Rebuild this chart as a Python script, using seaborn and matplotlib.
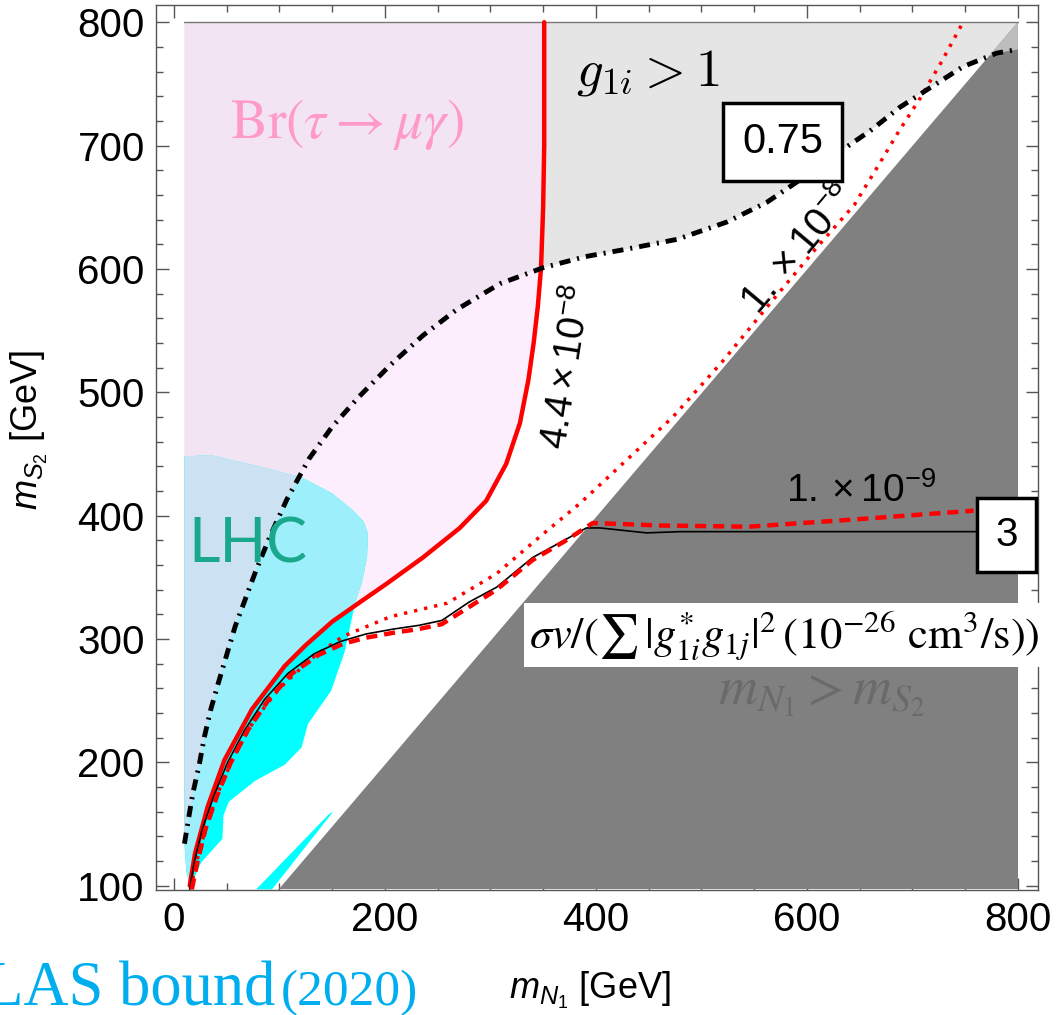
import matplotlib
matplotlib.use("Agg")
import matplotlib.pyplot as plt
import seaborn as sns
from matplotlib.ticker import MultipleLocator

# contours, (m_N1, m_S2) in GeV
# g_1i = 0.75 (black dash-dot)
g075_x = [10, 14, 18, 24, 29, 35, 42, 50, 58, 68, 78, 92, 107, 128, 150, 175, 205, 236,
          268, 309, 350, 390, 429, 477, 524, 562, 600, 631, 660, 688, 717, 748, 780, 800]
g075_y = [134, 155, 175, 198, 221, 243, 264, 287, 310, 333, 356, 385, 413, 446, 472, 496, 522, 546,
          567, 588, 601, 610, 616, 624, 638, 654, 676, 695, 712, 731, 747, 764, 775, 778]

# Br(tau -> mu gamma) = 4.4e-8 (red solid)
br44_x = [15, 20, 32, 48, 74, 105, 125, 150, 175, 202, 236, 271, 296, 315, 328, 336, 341,
          345, 348, 350, 351, 351]
br44_y = [100, 126, 164, 202, 243, 278, 295, 314, 329, 345, 366, 390, 412, 442, 475, 510, 540,
          570, 601, 650, 700, 800]

# Br = 1e-8 (red dotted)
br1e8_x = [16, 21, 30, 42, 57, 76, 100, 130, 160, 205, 259, 306, 347, 385, 429, 473,
           520, 565, 610, 645, 665, 686, 707, 727, 748]
br1e8_y = [97, 118, 146, 176, 205, 234, 260, 284, 302, 318, 329, 353, 383, 410, 445, 480,
           525, 572, 618, 652, 680, 710, 738, 767, 800]

# Br = 1e-9 (red dashed)
br1e9_x = [17, 22, 30, 41, 54, 70, 90, 112, 137, 160, 182, 208, 232, 254, 280, 306, 340, 370,
           397, 461, 545, 647, 758]
br1e9_y = [97, 118, 146, 173, 200, 226, 251, 272, 287, 296, 301, 305, 308, 312, 326, 340, 364, 379,
           394, 392, 391, 397, 404]

# sigma v = 3 (black solid)
sv3_x = [15, 19, 27, 38, 51, 67, 86, 108, 133, 158, 182, 208, 232, 254, 280, 306, 340, 370,
         391, 404, 448, 480, 550, 650, 764]
sv3_y = [97, 118, 146, 173, 200, 226, 251, 272, 288, 298, 304, 308, 311, 315, 330, 342, 366, 380,
         390, 390, 386, 387, 387, 387, 387]

# LHC excluded region outline
lhc_x = [10, 35, 80, 121, 150, 170, 180, 184, 183, 178, 172, 162, 149, 127, 121, 105, 77,
         52, 47, 46, 26, 16, 12, 10]
lhc_y = [448, 449, 440, 431, 418, 404, 395, 385, 366, 345, 330, 290, 258, 231, 212, 198, 185,
         168, 157, 138, 119, 100, 110, 134]

# small LHC sliver near the diagonal
sliver_x = [78, 93, 151, 147]
sliver_y = [97, 97, 160, 158]

# m_N1 > m_S2 triangle
diag_x = [100, 800, 800]
diag_y = [97, 97, 800]

m_top = 800
m_left = 10

sns.set_style("ticks")
plt.rcParams['font.family'] = ['Liberation Sans', 'DejaVu Sans']
plt.rcParams['mathtext.fontset'] = 'custom'
plt.rcParams['mathtext.rm'] = 'Liberation Sans'
plt.rcParams['mathtext.it'] = 'Liberation Sans:italic'
plt.rcParams['lines.scale_dashes'] = False
plt.rcParams['text.color'] = 'black'
plt.rcParams['axes.labelcolor'] = 'black'

fig = plt.figure(figsize=(10.56, 10.15), dpi=100)
ax = fig.add_axes([0.1477, 0.1232, 0.8352, 0.8719])

# regions (overlaps drawn again with their mixed colour, clipped)
gray_pts = list(zip(g075_x, g075_y)) + [(800, m_top), (m_left, m_top)]
pink_pts = [(m_left, m_top)] + list(zip(br44_x, br44_y))[::-1] + [(m_left, 120)]
lhc_pts = list(zip(lhc_x, lhc_y))
dark_pts = list(zip(diag_x, diag_y))

gray = ax.fill(*zip(*gray_pts), color='#e5e5e5', lw=0)[0]
pink = ax.fill(*zip(*pink_pts), color='#fceefc', lw=0)[0]
p2 = ax.fill(*zip(*pink_pts), color='#f2e4f2', lw=0)[0]
p2.set_clip_path(gray)
ax.fill(*zip(*lhc_pts), color='#00ffff', lw=0)
l2 = ax.fill(*zip(*lhc_pts), color='#9cefFb', lw=0)[0]
l2.set_clip_path(pink)
l3 = ax.fill(*zip(*lhc_pts), color='#cce2f2', lw=0)[0]
l3.set_clip_path(gray)
dark = ax.fill(*zip(*dark_pts), color='#808080', lw=0)[0]
g2 = ax.fill(*zip(*gray_pts), color='#bdbdbd', lw=0)[0]
g2.set_clip_path(dark)
ax.fill(sliver_x, sliver_y, color='#00ffff', lw=0)
ax.plot([m_left, 800], [m_top, m_top], color='#777777', lw=1)

# contour lines
sns.lineplot(x=br44_x, y=br44_y, sort=False, estimator=None, color='red', lw=3.2, ax=ax)
sns.lineplot(x=br1e8_x, y=br1e8_y, sort=False, estimator=None, color='red', lw=2.5, ax=ax)
ax.lines[-1].set_dashes([2.4, 5])
sns.lineplot(x=sv3_x, y=sv3_y, sort=False, estimator=None, color='black', lw=1.2, ax=ax)
sns.lineplot(x=br1e9_x, y=br1e9_y, sort=False, estimator=None, color='red', lw=3.2, ax=ax)
ax.lines[-1].set_dashes([8, 5])
sns.lineplot(x=g075_x, y=g075_y, sort=False, estimator=None, color='black', lw=3.5, ax=ax)
ax.lines[-1].set_dashes([8, 5, 1.5, 5])

# labels inside
ax.text(164, 717, r'$\mathrm{Br}(\tau\rightarrow\mu\gamma)$', color='#ff9ac8', fontsize=40,
        ha='center', va='center', math_fontfamily='stix')
ax.text(449, 759, r'$g_{1i}>1$', color='black', fontsize=38, ha='center', va='center',
        math_fontfamily='cm')
ax.text(70, 376, 'LHC', color='#1aa88c', fontsize=44, ha='center', va='center',
        family=['Lato', 'DejaVu Sans'])
ax.text(614, 255, r'$m_{N_1}>m_{S_2}$', color='#6a6a6a', fontsize=39, ha='center', va='center',
        math_fontfamily='stix')
ax.text(579, 303, r'$\sigma v/(\sum\,|g^{*}_{1i}g_{1j}|^{2}\,(10^{-26}\ \mathrm{cm}^{3}/\mathrm{s}))$',
        fontsize=32, ha='center', va='center', math_fontfamily='stix', clip_on=False,
        bbox=dict(boxstyle='square,pad=0.12', fc='white', ec='none'))

ax.text(374, 520, r'$4.4\times10^{-8}$', fontsize=28, rotation=81, ha='center', va='center',
        rotation_mode='anchor')
ax.text(592, 616, r'$1.\times10^{-8}$', fontsize=29, rotation=50, ha='center', va='center',
        rotation_mode='anchor')
ax.text(651, 420, r'$1.\times10^{-9}$', fontsize=28, ha='center', va='center')
ax.text(577, 703, '0.75', fontsize=30, ha='center', va='center',
        bbox=dict(boxstyle='square,pad=0.45', fc='white', ec='black', lw=2.5))
ax.text(789, 384, '3', fontsize=29, ha='center', va='center', clip_on=False,
        bbox=dict(boxstyle='square,pad=0.45', fc='white', ec='black', lw=2.5))

# axes
ax.set_xlim(-17, 819)
ax.set_ylim(96.5, 814)
ax.set_xticks([0, 200, 400, 600, 800])
ax.set_yticks([100, 200, 300, 400, 500, 600, 700, 800])
ax.xaxis.set_minor_locator(MultipleLocator(50))
ax.yaxis.set_minor_locator(MultipleLocator(20))
ax.tick_params(which='both', direction='in', top=True, right=True, color='#555555', width=1)
ax.tick_params(which='major', length=9, labelsize=29, pad=8, labelcolor='black')
ax.tick_params(which='minor', length=5)
for s in ax.spines.values():
    s.set_color('#555555')
    s.set_linewidth(1)

ax.set_xlabel(r'$m_{N_1}$ [GeV]', fontsize=26)
ax.set_ylabel(r'$m_{S_2}$ [GeV]', fontsize=26)
ax.xaxis.set_label_coords(0.492, -0.113)
ax.yaxis.set_label_coords(-0.143, 0.52)
ax.xaxis.label.set_va('center')
ax.yaxis.label.set_va('center')

fig.text(275 / 1056, 10 / 1015, 'ATLAS bound', color='#00aeef', fontsize=45, ha='right',
         va='baseline', family=['Liberation Serif', 'DejaVu Serif'])
fig.text(281 / 1056, 10 / 1015, '(2020)', color='#00aeef', fontsize=37, ha='left',
         va='baseline', family=['Liberation Serif', 'DejaVu Serif'])

fig.savefig('out.png', dpi=100)
